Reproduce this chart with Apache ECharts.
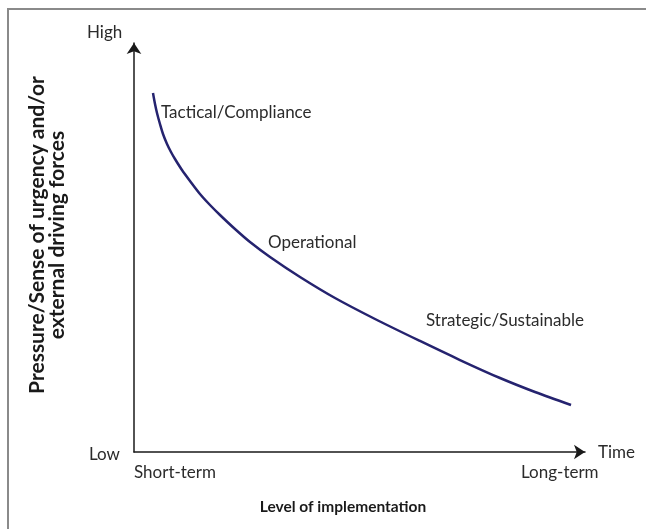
<!DOCTYPE html>
<html><head><meta charset="utf-8">
<script src="https://cdn.jsdelivr.net/npm/echarts@6/dist/echarts.min.js"></script>
<style>html,body{margin:0;padding:0;background:#fff}#c{width:646px;height:529px}</style>
</head><body><div id="c"></div>
<script>
// Curve: level of implementation (x, 0-100) vs pressure (y, 0-100)
const curveX = [4.21, 4.66, 5.10, 5.76, 6.43, 7.32, 8.20, 9.09, 10.64, 12.42, 14.63, 16.85, 19.07, 22.39, 25.72, 30.16, 36.81, 44.57, 53.44, 63.41, 72.28, 81.15, 88.91, 96.90];
const curveY = [87.78, 85.09, 82.89, 80.20, 77.75, 75.31, 73.35, 71.64, 68.95, 66.26, 63.08, 60.39, 57.95, 54.52, 51.34, 47.68, 42.79, 37.65, 32.52, 27.14, 22.49, 18.09, 14.67, 11.49];
const stageLabels = ['Tactical/Compliance', 'Operational', 'Strategic/Sustainable'];
const xTickLabels = ['Short-term', 'Long-term'];
const yTickLabels = ['Low', 'High'];
const xAxisTitle = 'Level of implementation';
const yAxisTitle = ['Pressure/Sense of urgency and/or', 'external driving forces'];
const xEndLabel = 'Time';

const FONT = 'Lato, "Open Sans", sans-serif';
const TXT = '#2b2b2b';
const chart = echarts.init(document.getElementById('c'), null, {renderer: 'canvas'});
const txt = (x, y, s, extra) => Object.assign({type: 'text', x: x, y: y, style: Object.assign({text: s, fill: TXT, font: '17px ' + FONT, textVerticalAlign: 'middle'}, extra || {})});
chart.setOption({
  animation: false,
  backgroundColor: '#fff',
  grid: {left: 134, right: 61, top: 43, bottom: 77},
  xAxis: {type: 'value', min: 0, max: 100, splitLine: {show: false}, axisTick: {show: false}, axisLabel: {show: false},
    axisLine: {lineStyle: {color: '#1a1a1a', width: 1.5}, symbol: ['none', 'arrow'], symbolSize: [11, 11]}},
  yAxis: {type: 'value', min: 0, max: 100, splitLine: {show: false}, axisTick: {show: false}, axisLabel: {show: false},
    axisLine: {lineStyle: {color: '#1a1a1a', width: 1.5}, symbol: ['none', 'arrow'], symbolSize: [11, 11]}},
  series: [{type: 'line', smooth: 0.3, showSymbol: false, data: curveX.map((x, i) => [x, curveY[i]]),
    lineStyle: {color: '#25236f', width: 2.5}}],
  graphic: [
    {type: 'polyline', shape: {points: [[8, 529], [8, 9], [646, 9]]}, style: {stroke: '#8a8a8a', lineWidth: 2, fill: null}},
    txt(87, 33, yTickLabels[1]),
    txt(89, 455, yTickLabels[0]),
    txt(598, 453, xEndLabel),
    txt(134, 473, xTickLabels[0]),
    txt(521, 473, xTickLabels[1]),
    txt(161, 113, stageLabels[0]),
    txt(268, 243, stageLabels[1]),
    txt(426, 321, stageLabels[2]),
    txt(343, 507, xAxisTitle, {font: 'bold 15.5px ' + FONT, textAlign: 'center', fill: '#1a1a1a'}),
    {type: 'text', x: 47, y: 235, rotation: Math.PI / 2,
      style: {text: yAxisTitle.join('\n'), font: 'bold 21px ' + FONT, fill: '#1a1a1a', textAlign: 'center', textVerticalAlign: 'middle', lineHeight: 20}}
  ]
});
</script></body></html>
